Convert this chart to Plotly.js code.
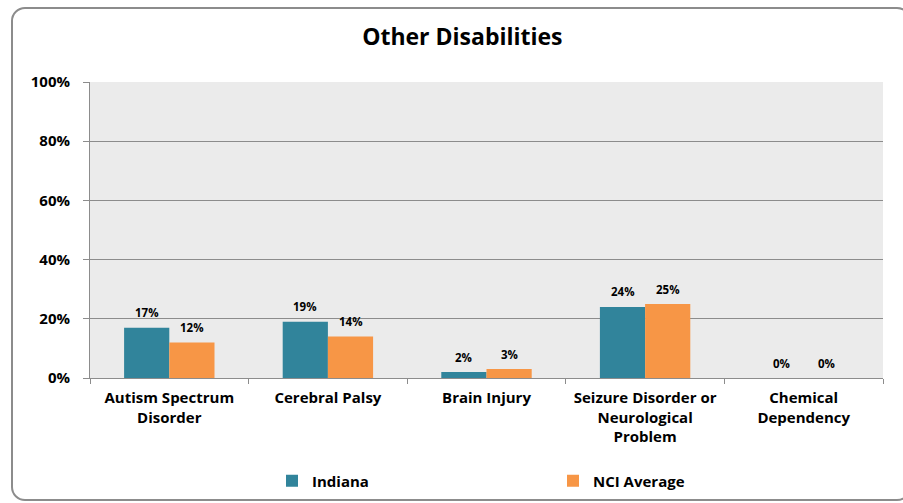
<!DOCTYPE html>
<html>
<head>
<meta charset="utf-8">
<script src="https://cdn.plot.ly/plotly-3.0.1.min.js"></script>
<style>
  html, body { margin: 0; padding: 0; background: #ffffff; }
  #wrap { position: relative; width: 903px; height: 503px; overflow: hidden; }
  #frame { position: absolute; left: 11px; top: 7px; width: 900px; height: 494px;
           border: 2px solid #8c8c8c; border-radius: 14px; box-sizing: border-box; pointer-events: none; }
  #chart { position: absolute; left: 0; top: 0; width: 903px; height: 503px; }
</style>
</head>
<body>
<div id="wrap">
  <div id="chart"></div>
  <div id="frame"></div>
</div>
<script>
const categories = [
  "Autism Spectrum<br>Disorder",
  "Cerebral Palsy",
  "Brain Injury",
  "Seizure Disorder or<br>Neurological<br>Problem",
  "Chemical<br>Dependency"
];
const indiana = [17, 19, 2, 24, 0];
const nciAverage = [12, 14, 3, 25, 0];
const yTickVals = [0, 20, 40, 60, 80, 100];
const yTickText = ["0%", "20%", "40%", "60%", "80%", "100%"];

const FONT = "Open Sans, Liberation Sans, sans-serif";

const traces = [
  {
    type: "bar", name: "Indiana", x: categories, y: indiana,
    marker: { color: "#31849B" }, hoverinfo: "none"
  },
  {
    type: "bar", name: "NCI Average", x: categories, y: nciAverage,
    marker: { color: "#F79646" }, hoverinfo: "none"
  }
];

// data labels, built from the series arrays
const labelFont = { family: FONT, size: 11.5, color: "#000000", weight: "bold" };
const annotations = [];
[[indiana, -22.6], [nciAverage, 22.6]].forEach(([vals, dx]) => {
  vals.forEach((v, i) => {
    annotations.push({
      x: categories[i], y: v, xref: "x", yref: "y",
      text: v + "%", showarrow: false,
      xshift: dx, yshift: 15, yanchor: "middle", xanchor: "center",
      font: labelFont
    });
  });
});

const layout = {
  width: 903, height: 503,
  margin: { l: 90, r: 20, t: 82, b: 125 },
  paper_bgcolor: "rgba(0,0,0,0)",
  plot_bgcolor: "#EBEBEB",
  font: { family: FONT, color: "#000000" },
  title: {
    text: "Other Disabilities",
    font: { family: FONT, size: 23, color: "#000000", weight: "bold" },
    x: 0.512, xanchor: "center", y: 0.926, yanchor: "middle"
  },
  barmode: "group",
  bargap: 0.43,
  bargroupgap: 0,
  showlegend: true,
  legend: {
    orientation: "h",
    xref: "container", yref: "container",
    x: 272 / 903, xanchor: "left",
    y: 1 - 481 / 503, yanchor: "middle",
    entrywidth: 236, entrywidthmode: "pixels",
    font: { family: FONT, size: 15, color: "#000000", weight: "bold" },
    bgcolor: "rgba(0,0,0,0)"
  },
  annotations: annotations,
  xaxis: {
    type: "category",
    tickson: "boundaries",
    ticks: "outside", ticklen: 5, tickcolor: "#8c8c8c", tickwidth: 1,
    showline: true, linecolor: "#8c8c8c", linewidth: 1,
    showgrid: false,
    tickfont: { family: FONT, size: 15, color: "#000000", weight: "bold" },
    tickangle: 0,
    ticklabelstandoff: 6,
    automargin: false,
    fixedrange: true
  },
  yaxis: {
    range: [0, 100],
    tickvals: yTickVals, ticktext: yTickText,
    ticks: "outside", ticklen: 6, tickcolor: "#8c8c8c",
    showline: true, linecolor: "#8c8c8c", linewidth: 1,
    showgrid: true, gridcolor: "#8c8c8c", gridwidth: 1,
    zeroline: false,
    tickfont: { family: FONT, size: 15, color: "#000000", weight: "bold" },
    ticklabelstandoff: 10,
    automargin: false,
    fixedrange: true
  }
};

Plotly.newPlot("chart", traces, layout, { displayModeBar: false, staticPlot: true });
</script>
</body>
</html>
